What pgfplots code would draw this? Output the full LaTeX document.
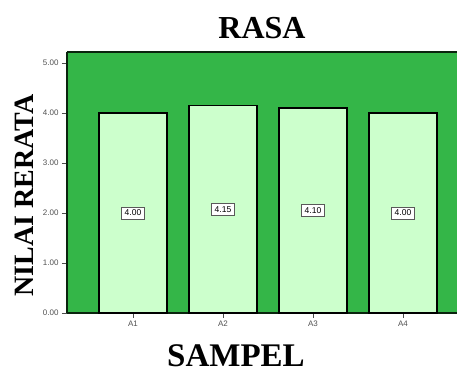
\documentclass[border=0pt]{standalone}
\usepackage{pgfplots}
\pgfplotsset{compat=1.18}
\usepackage{fontspec}
\setmainfont{Liberation Serif}
\newfontfamily\arialf{Liberation Sans}
\definecolor{bggreen}{RGB}{52,182,72}
\definecolor{barfill}{RGB}{204,255,204}
\definecolor{ticktext}{RGB}{80,80,80}
\begin{document}
\begin{tikzpicture}
\begin{axis}[
  name=ax,
  scale only axis,
  width=390pt, height=261pt,
  xmin=0.267, xmax=4.6,
  ymin=0, ymax=5.22,
  axis x line*=box,
  axis y line*=left,
  axis line style={line width=1.2pt, black!80!bggreen},
  axis background/.style={fill=bggreen},
  xtick={1,2,3,4},
  xticklabels={A1,A2,A3,A4},
  ytick={0,1,2,3,4,5},
  yticklabel style={/pgf/number format/fixed, /pgf/number format/fixed zerofill, /pgf/number format/precision=2},
  /pgf/number format/assume math mode=true,
  tick align=outside,
  xtick pos=bottom,
  major tick length=5pt,
  tick style={black!70, line width=0.6pt},
  ticklabel style={font=\arialf\fontsize{8}{9}\selectfont, text=ticktext},
  xticklabel style={yshift=1pt},
  clip=false,
]
\addplot[ybar, bar width=68pt, bar shift=0pt, fill=barfill, draw=black, line width=1.2pt]
  coordinates {(1,4.00) (2,4.15) (3,4.10) (4,4.00)};
\addplot[only marks, mark=none, point meta=explicit symbolic,
  nodes near coords,
  nodes near coords align={center},
  every node near coord/.append style={draw=black!65, fill=white, line width=0.7pt,
    font=\arialf\fontsize{8.5}{9}\selectfont, inner xsep=3pt, inner ysep=3pt, anchor=center}]
  coordinates {(1,2.00) [4.00] (2,2.075) [4.15] (3,2.05) [4.10] (4,2.00) [4.00]};
\end{axis}
\node[font=\bfseries\fontsize{32}{36}\selectfont, anchor=base] at ([yshift=13pt]ax.north) {RASA};
\node[font=\bfseries\fontsize{33}{36}\selectfont, anchor=base] at ([xshift=-26pt,yshift=-53pt]ax.south) {SAMPEL};
\node[font=\bfseries\fontsize{28}{30}\selectfont, rotate=90, anchor=center] at ([xshift=-43pt,yshift=-13pt]ax.west) {NILAI RERATA};
\pgfresetboundingbox
\path[use as bounding box] ([xshift=-67pt,yshift=-59pt]ax.south west) rectangle ([yshift=52pt]ax.north east);
\end{tikzpicture}
\end{document}
